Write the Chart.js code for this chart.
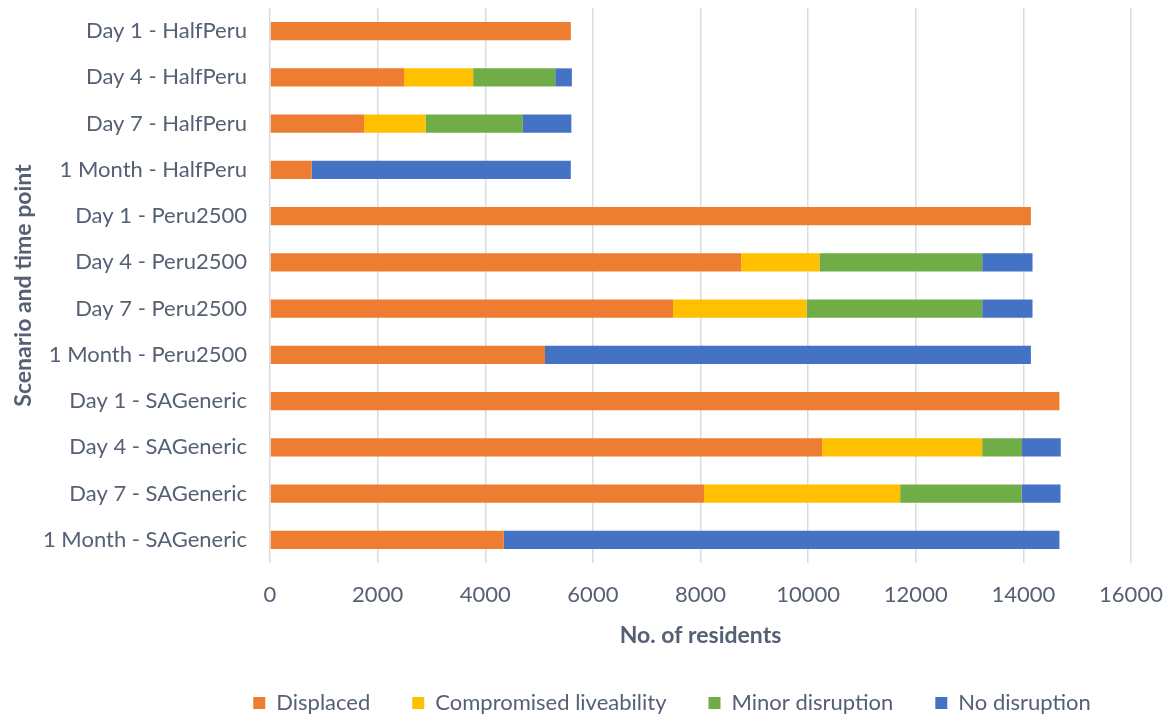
<!DOCTYPE html>
<html lang="en">
<head>
<meta charset="UTF-8">
<title>Residents by scenario</title>
<script src="https://cdn.jsdelivr.net/npm/chart.js"></script>
<style>
  html, body { margin: 0; padding: 0; background: #fff; }
  #wrap { width: 1166px; height: 718px; }
</style>
</head>
<body>
<div id="wrap"><canvas id="myChart" width="1166" height="718"></canvas></div>
<script>
// categories, top to bottom
const labels = [
  'Day 1 - HalfPeru', 'Day 4 - HalfPeru', 'Day 7 - HalfPeru', '1 Month - HalfPeru',
  'Day 1 - Peru2500', 'Day 4 - Peru2500', 'Day 7 - Peru2500', '1 Month - Peru2500',
  'Day 1 - SAGeneric', 'Day 4 - SAGeneric', 'Day 7 - SAGeneric', '1 Month - SAGeneric'
];

// series values (no. of residents)
const displaced     = [5590, 2490, 1750, 775, 14140, 8755, 7490, 5110, 14670, 10260, 8065, 4345];
const compromised   = [0, 1285, 1140, 0, 0, 1455, 2480, 0, 0, 2975, 3645, 0];
const minor         = [0, 1525, 1810, 0, 0, 3025, 3265, 0, 0, 740, 2260, 0];
const noDisruption  = [0, 310, 900, 4815, 0, 935, 935, 9030, 0, 720, 720, 10325];

const xTicks = [0, 2000, 4000, 6000, 8000, 10000, 12000, 14000, 16000];

const textColor = '#556074';
const fontFamily = 'Lato, "Open Sans", sans-serif';

// legend in the original sits under the plot area, not under the whole canvas
const shiftLegend = {
  id: 'shiftLegend',
  afterUpdate(chart) {
    const lg = chart.legend;
    if (!lg) return;
    lg.left += 170;
    lg.right += 0;
    lg.adjustHitBoxes();
  }
};

const ctx = document.getElementById('myChart').getContext('2d');
new Chart(ctx, {
  type: 'bar',
  data: {
    labels: labels,
    datasets: [
      { label: 'Displaced', data: displaced, backgroundColor: '#ED7D31' },
      { label: 'Compromised liveability', data: compromised, backgroundColor: '#FFC000' },
      { label: 'Minor disruption', data: minor, backgroundColor: '#70AD47' },
      { label: 'No disruption', data: noDisruption, backgroundColor: '#4472C4' }
    ]
  },
  options: {
    indexAxis: 'y',
    responsive: false,
    animation: false,
    categoryPercentage: 0.39,
    barPercentage: 1.0,
    layout: { padding: { top: 8, right: 0, bottom: -6, left: 8 } },
    plugins: {
      tooltip: { enabled: false },
      legend: {
        position: 'bottom',
        labels: {
          color: textColor,
          font: { family: fontFamily, size: 22 },
          boxWidth: 12,
          boxHeight: 12,
          padding: 42
        }
      }
    },
    scales: {
      x: {
        stacked: true,
        min: 0,
        max: 16000,
        afterBuildTicks: (scale) => { scale.ticks = xTicks.map(v => ({ value: v })); },
        ticks: {
          color: textColor,
          font: { family: fontFamily, size: 22 },
          padding: 19,
          maxRotation: 0,
          callback: (v) => String(v)
        },
        grid: { color: '#d9dce2', lineWidth: 1.5, drawTicks: false },
        border: { display: false },
        title: {
          display: true,
          text: 'No. of residents',
          color: textColor,
          font: { family: fontFamily, size: 23, weight: 'bold' },
          padding: { top: 14, bottom: 1 }
        },
        afterFit: (scale) => { scale.height = 87; scale.paddingRight = 35; }
      },
      y: {
        stacked: true,
        ticks: {
          color: textColor,
          font: { family: fontFamily, size: 22 },
          padding: 15
        },
        grid: { display: false },
        border: { display: false },
        title: {
          display: true,
          text: 'Scenario and time point',
          color: textColor,
          font: { family: fontFamily, size: 23, weight: 'bold' },
          padding: { top: 2, bottom: 0 }
        },
        afterFit: (scale) => { scale.width = 262; scale.paddingTop = 0; scale.paddingBottom = 0; }
      }
    }
  },
  plugins: [shiftLegend]
});
</script>
</body>
</html>
